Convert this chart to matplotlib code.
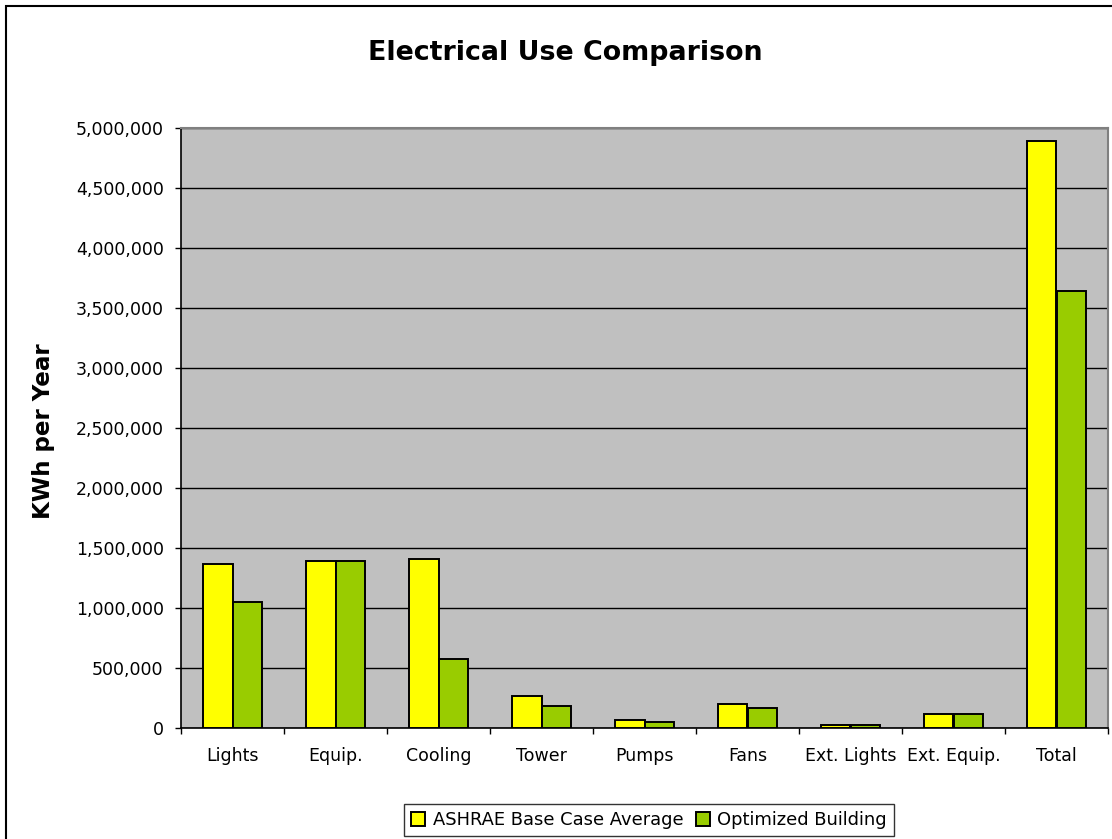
import numpy as np
import matplotlib
matplotlib.use("Agg")
import matplotlib.pyplot as plt
from matplotlib.patches import Rectangle
from matplotlib.ticker import FuncFormatter, MultipleLocator

# Data
categories = ["Lights", "Equip.", "Cooling", "Tower", "Pumps", "Fans",
              "Ext. Lights", "Ext. Equip.", "Total"]
base_case = [1367000, 1394000, 1408000, 267000, 64000, 200000, 22000, 117000, 4894000]
optimized = [1053000, 1394000, 578000, 186000, 53000, 169000, 22000, 117000, 3639000]
series_names = ["ASHRAE Base Case Average", "Optimized Building"]

W, H = 1112, 839
fig = plt.figure(figsize=(W / 100, H / 100), dpi=100)
plt.rcParams["font.family"] = "DejaVu Sans"

# outer chart border (cropped on right/bottom in the reference)
fig.patches.append(Rectangle((6 / W, -0.1), 1.2, 1 - 6 / H + 0.1, transform=fig.transFigure,
                             fill=False, edgecolor="black", linewidth=1.5))

ax = fig.add_axes([181 / W, (H - 728) / H, 927 / W, 600 / H])
ax.set_facecolor("#C0C0C0")

x = np.arange(len(categories))
bw = 1 / 3.5
ax.bar(x - bw / 2, base_case, bw, color="#FFFF00", edgecolor="black", linewidth=1.4,
       label=series_names[0], zorder=3)
ax.bar(x + bw / 2, optimized, bw, color="#99CC00", edgecolor="black", linewidth=1.4,
       label=series_names[1], zorder=3)

ax.set_xlim(-0.5, len(categories) - 0.5)
ax.set_ylim(0, 5000000)
ax.yaxis.set_major_locator(MultipleLocator(500000))
ax.yaxis.set_major_formatter(FuncFormatter(lambda v, p: f"{int(v):,}"))
ax.grid(axis="y", color="black", linewidth=1, zorder=1)
ax.set_axisbelow(True)

ax.set_xticks(x)
ax.set_xticklabels(categories)
ax.set_xticks(np.arange(len(categories) + 1) - 0.5, minor=True)
ax.tick_params(axis="x", which="major", length=0, pad=14, labelsize=12.5)
ax.tick_params(axis="x", which="minor", length=4.5, width=1, color="black", direction="out")
ax.tick_params(axis="y", length=4.5, width=1, pad=8, labelsize=12.5)

for s in ["top", "right"]:
    ax.spines[s].set_color("#808080")
    ax.spines[s].set_linewidth(1.5)
for s in ["left", "bottom"]:
    ax.spines[s].set_color("black")
    ax.spines[s].set_linewidth(1.2)

fig.text(565 / W, 1 - 53 / H, "Electrical Use Comparison", ha="center", va="center",
         fontsize=19.4, fontweight="bold")
fig.text(44 / W, 1 - 431 / H, "KWh per Year", ha="center", va="center",
         rotation=90, fontsize=16.6, fontweight="bold")

leg = fig.legend(loc="center", bbox_to_anchor=(649 / W, 1 - 820 / H), ncol=2,
                 fontsize=12.9, frameon=True, fancybox=False, edgecolor="black",
                 handlelength=0.8, handleheight=0.8, handletextpad=0.4,
                 columnspacing=0.7, borderpad=0.4, borderaxespad=0)
leg.get_frame().set_linewidth(1)

fig.savefig("out.png", dpi=100)
